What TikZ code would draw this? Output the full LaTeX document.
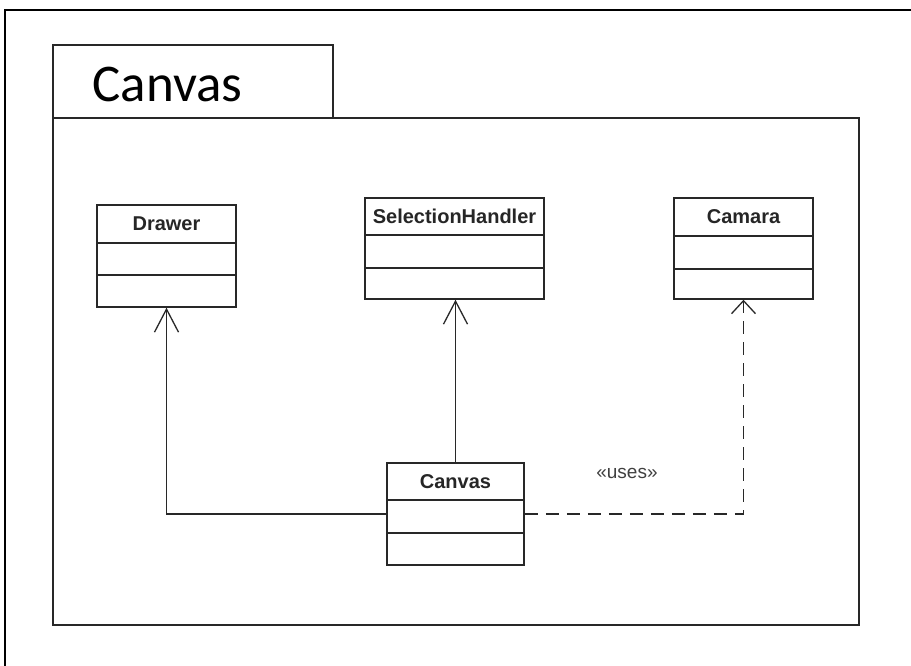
\documentclass[tikz,border=0pt]{standalone}
\usepackage{fontspec}
\setmainfont{Liberation Sans}
\newfontfamily\calib{Carlito}
\usetikzlibrary{arrows.meta}
\definecolor{linegray}{RGB}{40,40,40}
\tikzset{
  frameline/.style={draw=black, line width=2pt},
  pkgline/.style={draw=linegray, line width=1.5pt},
  classbox/.style={draw=linegray, line width=1.5pt, inner sep=0pt, fill=none},
  divider/.style={draw=linegray, line width=1.4pt},
  classname/.style={font=\fontsize{20}{22}\selectfont\bfseries, text=black!85},
  conn/.style={draw=linegray, line width=1.5pt},
  dep/.style={conn, dash pattern=on 13pt off 8pt},
  openarrow/.style={-{Straight Barb[length=23pt,width=24pt,line width=1.3pt]}},
  smallarrow/.style={-{Straight Barb[length=13pt,width=24pt,line width=1.3pt]}},
  stereo/.style={font=\fontsize{19}{21}\selectfont, text=black!75}
}
\begin{document}
\begin{tikzpicture}[x=1pt,y=-1pt]
\useasboundingbox (0,0) rectangle (911,666);
\fill[white] (0,0) rectangle (911,666);
% outer frame (top and left only)
\draw[frameline] (5,666) -- (5,10) -- (911,10);
% package
\node[pkgline, minimum width=280pt, minimum height=73pt, inner sep=0pt] (tab) at (193,81.5) {};
\node[pkgline, minimum width=806pt, minimum height=507pt, inner sep=0pt] (pkg) at (456,371.5) {};
\node[font=\calib\fontsize{53}{56}\selectfont, text=black, anchor=west] (pkgname) at (89,84) {Canvas};
% Drawer
\node[classbox, minimum width=139pt, minimum height=102pt] (drawer) at (166.5,256) {};
\draw[divider] (97,243) -- (236,243);
\draw[divider] (97,275) -- (236,275);
\node[classname] (drawername) at (166.5,224) {Drawer};
% SelectionHandler
\node[classbox, minimum width=179pt, minimum height=101pt] (sel) at (454.5,248.5) {};
\draw[divider] (365,235) -- (544,235);
\draw[divider] (365,268) -- (544,268);
\node[classname] (selname) at (454.5,216.5) {SelectionHandler};
% Camara
\node[classbox, minimum width=139pt, minimum height=101pt] (cam) at (743.5,248.5) {};
\draw[divider] (674,236) -- (813,236);
\draw[divider] (674,269) -- (813,269);
\node[classname] (camname) at (743.5,217) {Camara};
% Canvas class
\node[classbox, minimum width=137pt, minimum height=102pt] (canvas) at (455.5,514) {};
\draw[divider] (387,500) -- (524,500);
\draw[divider] (387,533) -- (524,533);
\node[classname] (canvasname) at (455.5,481.5) {Canvas};
% connectors
\draw[conn, openarrow] (canvas.west) -| (drawer.south);
\draw[conn, openarrow] (canvas.north) -- (canvas.north |- sel.south);
\draw[dep, smallarrow] (canvas.east) -| (cam.south);
\node[stereo] (uses) at (627,473) {«uses»};
\end{tikzpicture}
\end{document}
